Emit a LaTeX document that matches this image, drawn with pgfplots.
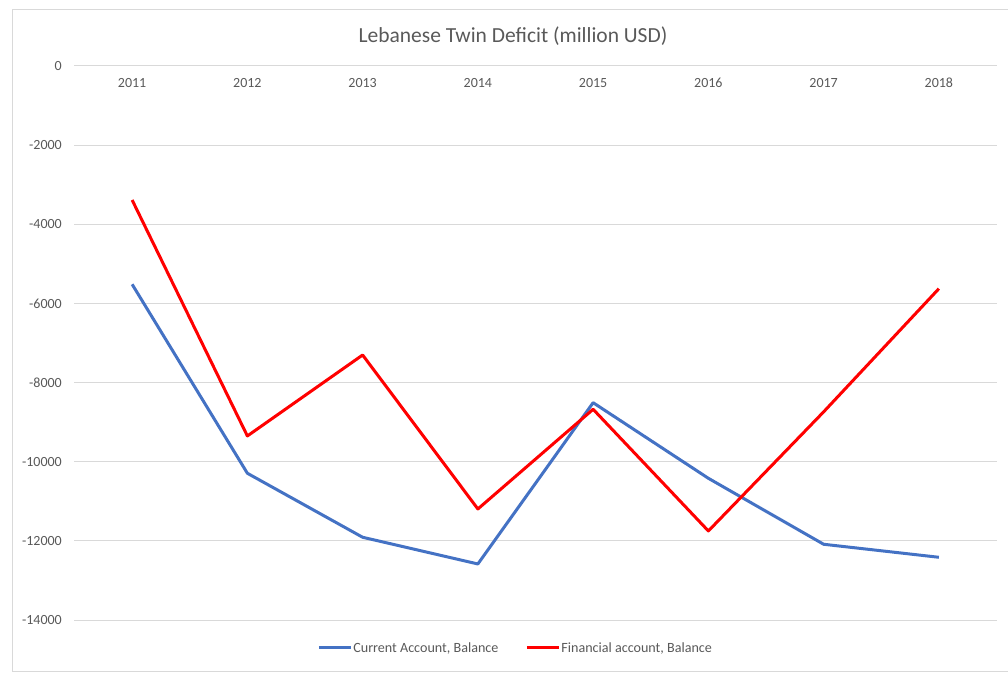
\documentclass[border=0pt]{standalone}
\usepackage{pgfplots}
\pgfplotsset{compat=1.18}
\usepackage{fontspec}
\setmainfont{Carlito}
\definecolor{cablue}{HTML}{4472C4}
\definecolor{fared}{HTML}{FF0000}
\definecolor{gridc}{HTML}{D9D9D9}
\definecolor{txt}{HTML}{595959}
\begin{document}
\begin{tikzpicture}[x=1pt,y=1pt]
\useasboundingbox (-74.5,-53) rectangle (933.5,620);
\draw[gridc, line width=1pt] (-61.5,610) rectangle (940,-51);
\node[txt, font=\fontsize{21.5}{25}\selectfont] at (438.5,584) {Lebanese Twin Deficit (million USD)};
\begin{axis}[
  at={(0,0)}, anchor=south west,
  scale only axis, width=922pt, height=554pt,
  xmin=-0.5, xmax=7.5, ymin=-14000, ymax=0,
  scaled y ticks=false, scaled x ticks=false,
  xtick={0,...,7},
  xticklabels={2011,2012,2013,2014,2015,2016,2017,2018},
  xticklabel pos=upper,
  xticklabel style={anchor=center, yshift=-17pt, text=txt, font=\fontsize{14}{16}\selectfont},
  ytick={-14000,-12000,-10000,-8000,-6000,-4000,-2000,0},
  yticklabels={-14000,-12000,-10000,-8000,-6000,-4000,-2000,0},
  yticklabel style={anchor=east, inner sep=0pt, xshift=-12.5pt, text=txt, font=\fontsize{14}{16}\selectfont},
  ymajorgrids, grid style={gridc, line width=1pt},
  axis line style={draw=none},
  major tick length=0pt,
  legend columns=2,
  legend style={draw=none, fill=none, at={(0.4785,-0.0505)}, anchor=center,
    font=\fontsize{14.1}{16}\selectfont, text=txt, inner sep=0pt,
    /tikz/every even column/.append style={column sep=25pt}},
  legend image code/.code={\draw[#1] (0,0) -- (32pt,0);},
  legend cell align=left,
]
\addplot[cablue, line width=3pt, line join=round] coordinates {
(0,-5516) (1,-10292) (2,-11909) (3,-12584) (4,-8508) (5,-10419) (6,-12086) (7,-12415)};
\addlegendentry{\hspace{-1pt}Current Account, Balance}
\addplot[fared, line width=3pt, line join=round] coordinates {
(0,-3386) (1,-9349) (2,-7303) (3,-11194) (4,-8675) (5,-11750) (6,-8740) (7,-5627)};
\addlegendentry{\hspace{-1pt}Financial account, Balance}
\end{axis}
\end{tikzpicture}
\end{document}
